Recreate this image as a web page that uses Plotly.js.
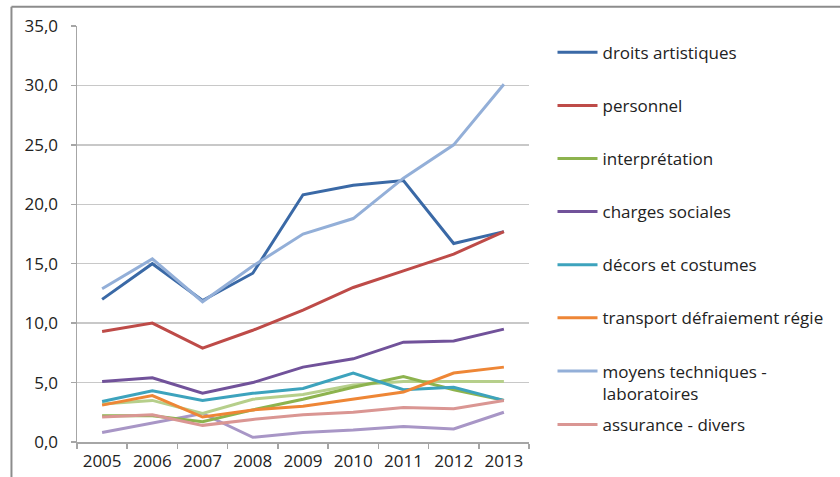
<!DOCTYPE html>
<html>
<head>
<meta charset="utf-8">
<script src="https://cdn.plot.ly/plotly-3.0.1.min.js"></script>
<style>html,body{margin:0;padding:0;background:#fff;}#chart{width:840px;height:477px;}</style>
</head>
<body>
<div id="chart"></div>
<script>
const years = ["2005","2006","2007","2008","2009","2010","2011","2012","2013"];

const droitsArtistiques   = [12.0, 15.0, 11.9, 14.2, 20.8, 21.6, 22.0, 16.7, 17.7];
const personnel           = [9.3, 10.0, 7.9, 9.4, 11.1, 13.0, 14.4, 15.8, 17.7];
const interpretation      = [2.2, 2.2, 1.7, 2.7, 3.6, 4.6, 5.5, 4.4, 3.5];
const chargesSociales     = [5.1, 5.4, 4.1, 5.0, 6.3, 7.0, 8.4, 8.5, 9.5];
const decorsCostumes      = [3.4, 4.3, 3.5, 4.1, 4.5, 5.8, 4.4, 4.6, 3.5];
const transportRegie      = [3.1, 3.9, 2.1, 2.7, 3.0, 3.6, 4.2, 5.8, 6.3];
const moyensTechniques    = [12.9, 15.4, 11.8, 14.8, 17.5, 18.8, 22.2, 25.0, 30.1];
const assuranceDivers     = [2.1, 2.3, 1.4, 1.9, 2.3, 2.5, 2.9, 2.8, 3.5];
const serieVertClair      = [3.2, 3.5, 2.4, 3.6, 4.0, 4.8, 5.1, 5.1, 5.1];
const serieLavande        = [0.8, 1.6, 2.4, 0.4, 0.8, 1.0, 1.3, 1.1, 2.5];

const seriesNames = ["droits artistiques","personnel","interprétation","charges sociales",
  "décors et costumes","transport défraiement régie","moyens techniques -<br>laboratoires","assurance - divers"];
const seriesColors = ["#3A69A6","#BE4B48","#8DB34E","#71529A","#3DA3BD","#EE8636","#93AFD8","#DA9693"];
const seriesData = [droitsArtistiques, personnel, interpretation, chargesSociales,
  decorsCostumes, transportRegie, moyensTechniques, assuranceDivers];
const seriesLegend = ["legend","legend","legend","legend","legend","legend","legend","legend2"];

const traces = [];
traces.push({x: years, y: serieLavande, type: "scatter", mode: "lines", showlegend: false,
  line: {color: "#A896C6", width: 3}, hoverinfo: "skip"});
traces.push({x: years, y: serieVertClair, type: "scatter", mode: "lines", showlegend: false,
  line: {color: "#B6CF8B", width: 3}, hoverinfo: "skip"});
seriesData.forEach((d, i) => {
  traces.push({x: years, y: d, type: "scatter", mode: "lines", name: seriesNames[i],
    legendgroup: "g" + i, legend: seriesLegend[i], line: {color: seriesColors[i], width: 3}});
});

const font = {family: "Open Sans, Lato, sans-serif", size: 17, color: "#222"};

const legendCommon = {x: 1.052, xanchor: "left", yanchor: "top", xref: "paper", yref: "paper",
  traceorder: "grouped", tracegroupgap: 28, valign: "top", font: font,
  bgcolor: "rgba(0,0,0,0)", itemwidth: 40};

const layout = {
  width: 840, height: 477,
  margin: {l: 77, r: 307, t: 26, b: 35},
  paper_bgcolor: "#fff", plot_bgcolor: "#fff",
  font: font,
  separators: ",.",
  showlegend: true,
  legend: Object.assign({}, legendCommon, {y: 0.979}),
  legend2: Object.assign({}, legendCommon, {y: 0.084}),
  xaxis: {type: "category", range: [-0.5, 8.5], tickson: "boundaries", ticks: "outside",
    ticklen: 5, tickcolor: "#A6A6A6", tickwidth: 1.5, showline: true, linecolor: "#A6A6A6",
    linewidth: 1.5, showgrid: false, zeroline: false, fixedrange: true, tickfont: font,
    ticklabelstandoff: 3},
  yaxis: {range: [0, 35], dtick: 5, tick0: 0, tickformat: ".1f", ticks: "outside", ticklen: 5,
    tickcolor: "#A6A6A6", tickwidth: 1.5, showline: true, linecolor: "#A6A6A6", linewidth: 1.5,
    showgrid: true, gridcolor: "#C8C8C8", gridwidth: 1.5, zeroline: false, ticklabelstandoff: 9,
    tickfont: font, fixedrange: true},
  shapes: [
    {type: "line", xref: "paper", yref: "paper", x0: -0.145, x1: -0.145, y0: -0.2, y1: 1.046,
      line: {color: "#8C8C8C", width: 2}},
    {type: "line", xref: "paper", yref: "paper", x0: -0.145, x1: 1.7, y0: 1.046, y1: 1.046,
      line: {color: "#8C8C8C", width: 2}}
  ]
};

Plotly.newPlot("chart", traces, layout, {displayModeBar: false, staticPlot: true});
</script>
</body>
</html>
